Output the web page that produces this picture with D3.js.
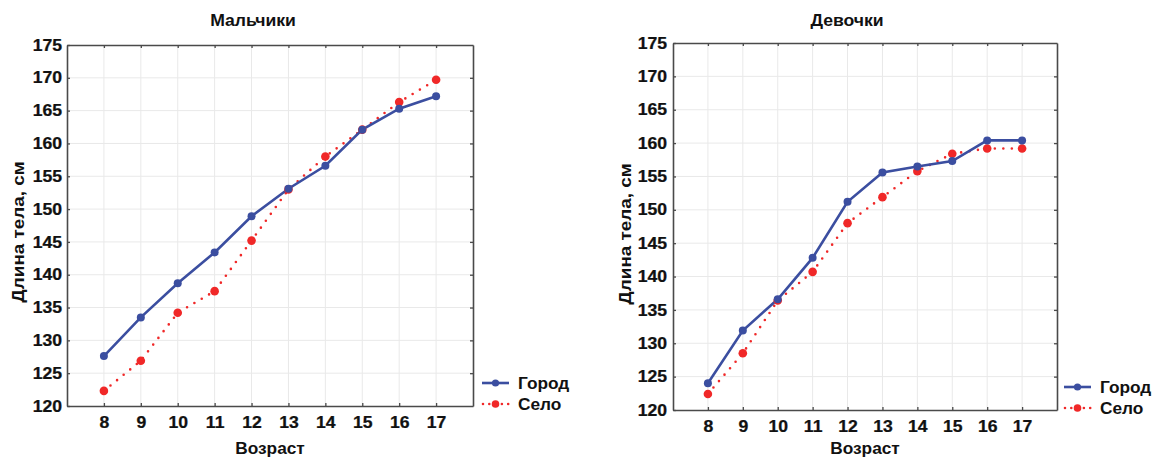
<!DOCTYPE html>
<html>
<head>
<meta charset="utf-8">
<script src="https://cdn.jsdelivr.net/npm/d3@7"></script>
<style>
  html, body { margin: 0; padding: 0; background: #fff; }
  svg { display: block; }
  text { font-family: "Liberation Sans", Arial, sans-serif; font-weight: bold; fill: #111; }
</style>
</head>
<body>
<svg id="chart" width="1152" height="457"></svg>
<script>
// Body length by age, urban vs rural children
const ages = [8, 9, 10, 11, 12, 13, 14, 15, 16, 17];
const boysCity    = [127.6, 133.5, 138.7, 143.4, 148.9, 153.1, 156.6, 162.1, 165.3, 167.2];
const boysVillage = [122.3, 126.9, 134.2, 137.5, 145.2, 153.0, 158.0, 162.1, 166.3, 169.7];
const girlsCity    = [124.0, 131.9, 136.6, 142.8, 151.2, 155.6, 156.5, 157.3, 160.4, 160.4];
const girlsVillage = [122.4, 128.5, 136.4, 140.7, 148.0, 151.9, 155.8, 158.4, 159.2, 159.2];
const yTicks = [120, 125, 130, 135, 140, 145, 150, 155, 160, 165, 170, 175];
const seriesNames = ["Город", "Село"];
const panelTitles = ["Мальчики", "Девочки"];
const xTitle = "Возраст";
const yTitle = "Длина тела, см";

const BLUE = "#3b4ea0";
const RED = "#f02828";
const FRAME = "#4a4a4a";
const GRID = "#e9e9e9";

const svg = d3.select("#chart");

// place a text element with a horizontal stretch along its own baseline
function stretched(g, str, x, y, size, sx, anchor, rot) {
  return g.append("text")
    .attr("transform", `translate(${x},${y}) rotate(${rot || 0}) scale(${sx},1)`)
    .attr("text-anchor", anchor || "middle")
    .style("font-size", size + "px")
    .text(str);
}

function panel(cfg) {
  const x = d3.scaleLinear().domain([7, 18]).range([cfg.left, cfg.right]);
  const y = d3.scaleLinear().domain([120, 175]).range([cfg.bottom, cfg.top]);
  const g = svg.append("g");
  const SX = 1.1;

  // grid
  g.append("g").selectAll("line.gx").data(ages).join("line")
    .attr("x1", d => x(d)).attr("x2", d => x(d))
    .attr("y1", cfg.top).attr("y2", cfg.bottom)
    .attr("stroke", GRID).attr("stroke-width", 1);
  g.append("g").selectAll("line.gy").data(yTicks.slice(1, -1)).join("line")
    .attr("x1", cfg.left).attr("x2", cfg.right)
    .attr("y1", d => y(d)).attr("y2", d => y(d))
    .attr("stroke", GRID).attr("stroke-width", 1);

  // axes with inward ticks
  const bottom = g.append("g").attr("transform", `translate(0,${cfg.bottom})`)
    .call(d3.axisBottom(x).tickValues(ages).tickFormat(d3.format("d"))
      .tickSizeInner(-3).tickSizeOuter(0).tickPadding(11));
  const top = g.append("g").attr("transform", `translate(0,${cfg.top})`)
    .call(d3.axisTop(x).tickValues(ages).tickFormat("").tickSizeInner(-3).tickSizeOuter(0));
  const left = g.append("g").attr("transform", `translate(${cfg.left},0)`)
    .call(d3.axisLeft(y).tickValues(yTicks).tickFormat(d3.format("d"))
      .tickSizeInner(-3).tickSizeOuter(0).tickPadding(cfg.yPad));
  const right = g.append("g").attr("transform", `translate(${cfg.right},0)`)
    .call(d3.axisRight(y).tickValues(yTicks.slice(1, -1)).tickFormat("").tickSizeInner(-3).tickSizeOuter(0));

  [bottom, top, left, right].forEach(a => {
    a.attr("font-size", null).attr("font-family", null);
    a.select(".domain").attr("stroke", FRAME).attr("stroke-width", 1.6);
    a.selectAll(".tick line").attr("stroke", FRAME).attr("stroke-width", 1.3);
    a.selectAll("text").attr("fill", "#111").style("font-size", "16px")
      .attr("stroke", "#111").attr("stroke-width", 0.25);
  });
  bottom.selectAll(".tick text").attr("transform", `scale(${SX},1)`);
  left.selectAll(".tick text")
    .attr("x", -cfg.yPad / SX)
    .attr("transform", `scale(${SX},1)`);

  // series
  const line = d3.line().x((d, i) => x(ages[i])).y(d => y(d));
  g.append("path").datum(cfg.village).attr("d", line)
    .attr("fill", "none").attr("stroke", RED).attr("stroke-width", 2.6)
    .attr("stroke-linecap", "round").attr("stroke-dasharray", "0 8.5");
  g.append("path").datum(cfg.city).attr("d", line)
    .attr("fill", "none").attr("stroke", BLUE).attr("stroke-width", 2.6);
  g.append("g").selectAll("circle").data(cfg.village).join("circle")
    .attr("cx", (d, i) => x(ages[i])).attr("cy", d => y(d)).attr("r", 4.3).attr("fill", RED);
  g.append("g").selectAll("circle").data(cfg.city).join("circle")
    .attr("cx", (d, i) => x(ages[i])).attr("cy", d => y(d)).attr("r", 4).attr("fill", BLUE);

  // titles
  stretched(g, cfg.title, cfg.titleX, 26, 16, 1.1, "middle");
  stretched(g, xTitle, (cfg.left + cfg.right) / 2, 454, 16, 1.08, "middle");
  stretched(g, yTitle, cfg.yTitleX, cfg.yTitleY, 16, 1.18, "middle", -90);

  // legend
  const lg = g.append("g").attr("transform", `translate(${cfg.legX},${cfg.legY})`);
  lg.append("line").attr("x1", 0).attr("x2", 27).attr("y1", 0).attr("y2", 0)
    .attr("stroke", BLUE).attr("stroke-width", 2.6);
  lg.append("circle").attr("cx", 13.5).attr("cy", 0).attr("r", 3.6).attr("fill", BLUE);
  lg.append("line").attr("x1", 1).attr("x2", 27).attr("y1", 21).attr("y2", 21)
    .attr("stroke", RED).attr("stroke-width", 2.6).attr("stroke-linecap", "round")
    .attr("stroke-dasharray", "0 6.3");
  lg.append("circle").attr("cx", 13.5).attr("cy", 21).attr("r", 3.8).attr("fill", RED);
  stretched(lg, seriesNames[0], 36, 6, 16, 1.08, "start");
  stretched(lg, seriesNames[1], 36, 27, 16, 1.08, "start");
}

panel({
  left: 67, right: 473, top: 45, bottom: 406, yPad: 5,
  city: boysCity, village: boysVillage, title: panelTitles[0], titleX: 253,
  yTitleX: 24, yTitleY: 232, legX: 482, legY: 383
});
panel({
  left: 673, right: 1057, top: 43, bottom: 410, yPad: 6,
  city: girlsCity, village: girlsVillage, title: panelTitles[1], titleX: 847,
  yTitleX: 631, yTitleY: 234, legX: 1064, legY: 387
});
</script>
</body>
</html>
